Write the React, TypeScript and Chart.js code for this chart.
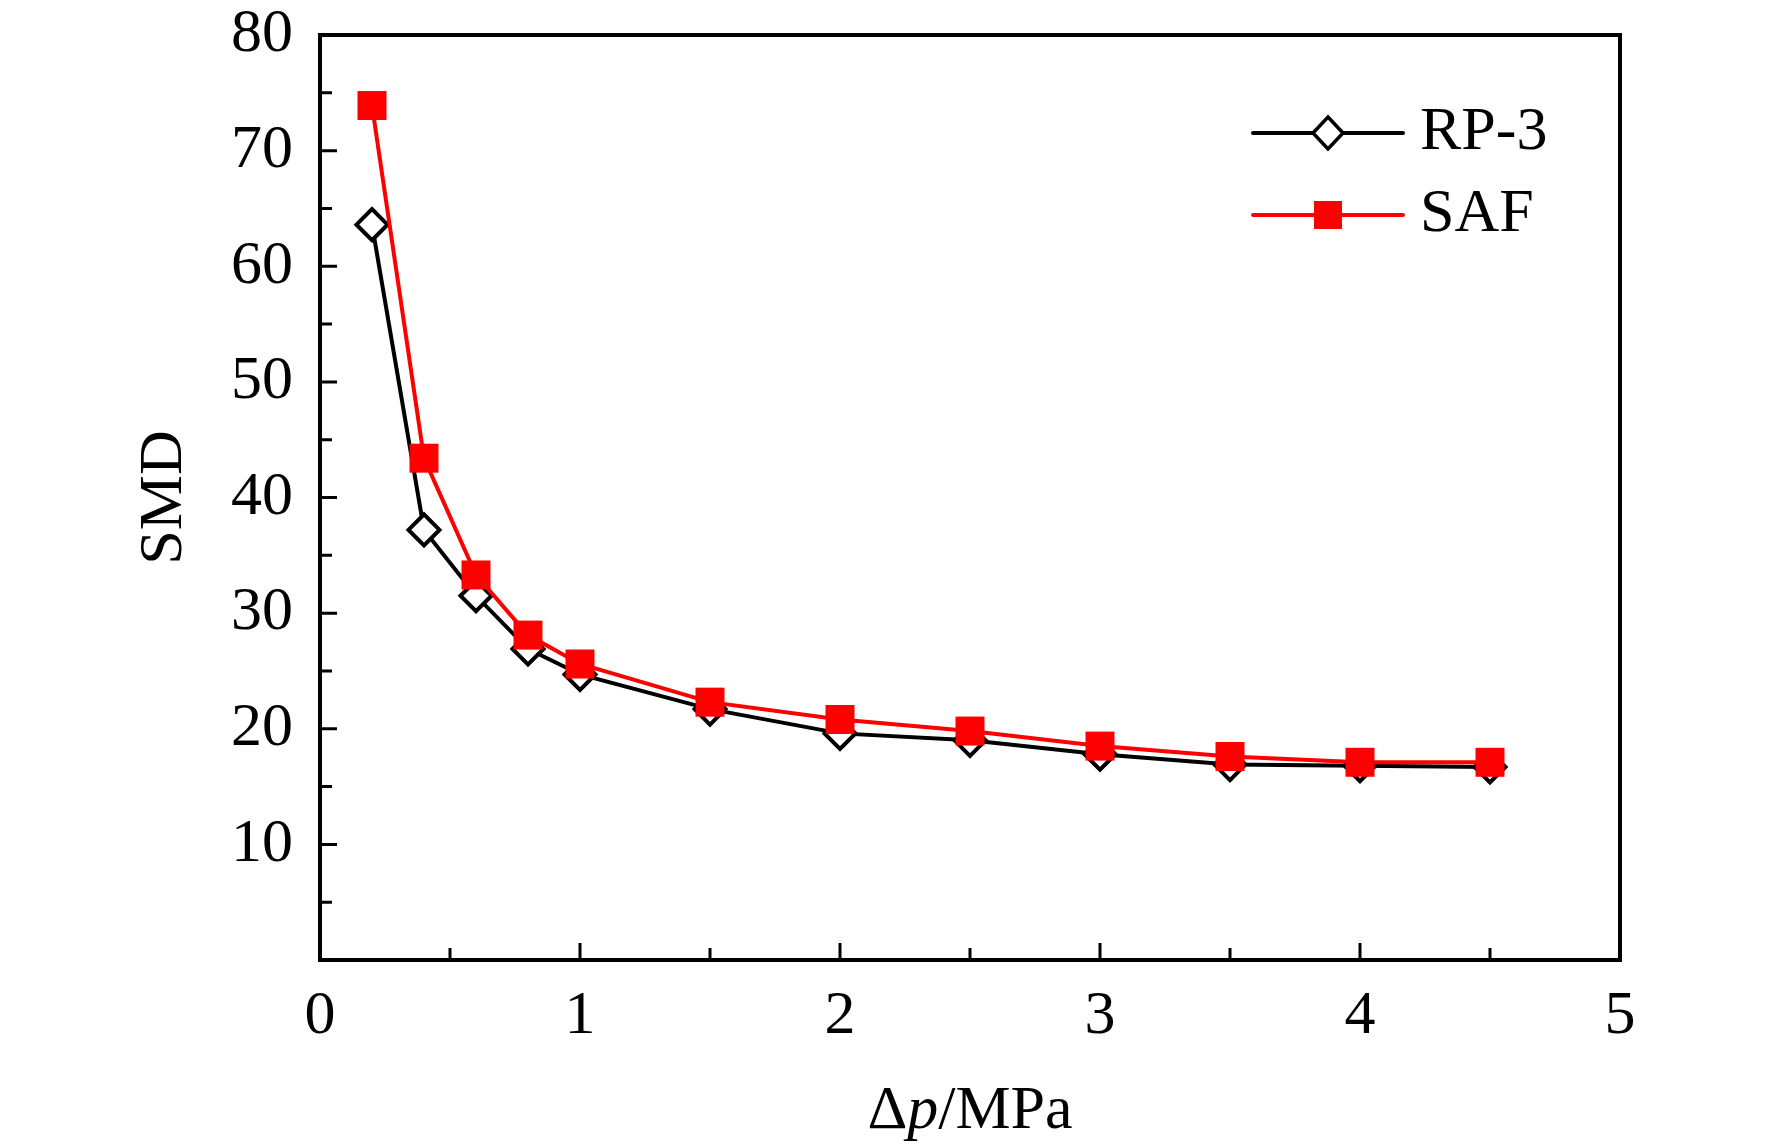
import { useEffect, useRef } from "react";
import { Chart, registerables } from "chart.js";

Chart.register(...registerables);

// pressure drop (MPa)
const pressure = [0.2, 0.4, 0.6, 0.8, 1.0, 1.5, 2.0, 2.5, 3.0, 3.5, 4.0, 4.5];
// SMD values
const rp3 = [63.6, 37.2, 31.5, 26.9, 24.7, 21.7, 19.6, 19.0, 17.8, 16.9, 16.8, 16.7];
const saf = [73.9, 43.4, 33.3, 28.1, 25.6, 22.3, 20.8, 19.8, 18.5, 17.6, 17.1, 17.1];

const xTickLabels = [0, 1, 2, 3, 4, 5];
const xMinorTicks = [0.5, 1.5, 2.5, 3.5, 4.5];
const yTickLabels = [10, 20, 30, 40, 50, 60, 70, 80];
const yMinorTicks = [5, 15, 25, 35, 45, 55, 65, 75];

const FONT = "'Liberation Serif', 'Times New Roman', serif";
const RED = "#ff0000";

// box round the plot + inward tick marks
const frameAndTicks = {
  id: "frameAndTicks",
  afterDraw(chart: any) {
    const { ctx, chartArea: a, scales } = chart;
    const x = scales.x;
    const y = scales.y;
    ctx.save();
    ctx.strokeStyle = "#000";
    ctx.lineWidth = 3;
    ctx.beginPath();
    xTickLabels.forEach((v) => {
      const px = x.getPixelForValue(v);
      ctx.moveTo(px, a.bottom);
      ctx.lineTo(px, a.bottom - 17);
    });
    xMinorTicks.forEach((v) => {
      const px = x.getPixelForValue(v);
      ctx.moveTo(px, a.bottom);
      ctx.lineTo(px, a.bottom - 12);
    });
    yTickLabels.forEach((v) => {
      const py = y.getPixelForValue(v);
      ctx.moveTo(a.left, py);
      ctx.lineTo(a.left + 17, py);
    });
    yMinorTicks.forEach((v) => {
      const py = y.getPixelForValue(v);
      ctx.moveTo(a.left, py);
      ctx.lineTo(a.left + 12, py);
    });
    ctx.stroke();
    ctx.lineWidth = 4;
    ctx.lineJoin = "miter";
    ctx.strokeRect(a.left, a.top, a.right - a.left, a.bottom - a.top);
    ctx.restore();
  },
};

// x title with italic p
const xTitle = {
  id: "xTitle",
  afterDraw(chart: any) {
    const { ctx, chartArea: a } = chart;
    const parts = [
      { t: "\u0394", f: `62px ${FONT}` },
      { t: "p", f: `italic 62px ${FONT}` },
      { t: "/MPa", f: `62px ${FONT}` },
    ];
    ctx.save();
    ctx.fillStyle = "#000";
    ctx.textBaseline = "alphabetic";
    ctx.textAlign = "left";
    let total = 0;
    const widths = parts.map((p) => {
      ctx.font = p.f;
      const w = ctx.measureText(p.t).width;
      total += w;
      return w;
    });
    let cx = (a.left + a.right) / 2 - total / 2;
    const baseY = a.bottom + 168;
    parts.forEach((p, i) => {
      ctx.font = p.f;
      ctx.fillText(p.t, cx, baseY);
      cx += widths[i];
    });
    ctx.restore();
  },
};

const legendBox = {
  id: "legendBox",
  afterDraw(chart: any) {
    const { ctx, chartArea: a } = chart;
    const x0 = a.right - 367;
    const x1 = a.right - 217;
    const mx = (x0 + x1) / 2;
    const rows = [
      { label: "RP-3", y: a.top + 98, color: "#000", marker: "diamond" },
      { label: "SAF", y: a.top + 180, color: RED, marker: "square" },
    ];
    ctx.save();
    rows.forEach((r) => {
      ctx.strokeStyle = r.color;
      ctx.lineWidth = 4;
      ctx.lineCap = "round";
      ctx.beginPath();
      ctx.moveTo(x0, r.y);
      ctx.lineTo(x1, r.y);
      ctx.stroke();
      if (r.marker === "diamond") {
        ctx.fillStyle = "#fff";
        ctx.lineWidth = 3.5;
        ctx.beginPath();
        ctx.moveTo(mx, r.y - 16);
        ctx.lineTo(mx + 15, r.y);
        ctx.lineTo(mx, r.y + 16);
        ctx.lineTo(mx - 15, r.y);
        ctx.closePath();
        ctx.fill();
        ctx.stroke();
      } else {
        ctx.fillStyle = RED;
        ctx.fillRect(mx - 14, r.y - 14, 28, 28);
      }
      ctx.fillStyle = "#000";
      ctx.font = `62px ${FONT}`;
      ctx.textAlign = "left";
      ctx.textBaseline = "middle";
      ctx.fillText(r.label, a.right - 200, r.y);
    });
    ctx.restore();
  },
};

const SmdChart = () => {
  const canvasRef = useRef<HTMLCanvasElement | null>(null);
  const chartRef = useRef<Chart | null>(null);

  useEffect(() => {
    if (!canvasRef.current) return;
    if (chartRef.current) chartRef.current.destroy();

    chartRef.current = new Chart(canvasRef.current, {
      type: "line",
      data: {
        datasets: [
          {
            label: "SAF",
            data: pressure.map((p, i) => ({ x: p, y: saf[i] })),
            borderColor: RED,
            backgroundColor: RED,
            borderWidth: 4,
            pointStyle: "rect",
            pointRadius: 20.5,
            pointBorderWidth: 0,
            pointBackgroundColor: RED,
            tension: 0,
            order: 0,
          },
          {
            label: "RP-3",
            data: pressure.map((p, i) => ({ x: p, y: rp3[i] })),
            borderColor: "#000",
            backgroundColor: "#fff",
            borderWidth: 4,
            pointStyle: "rectRot",
            pointRadius: 15.5,
            pointBorderWidth: 4,
            pointBorderColor: "#000",
            pointBackgroundColor: "#fff",
            tension: 0,
            order: 1,
          },
        ],
      },
      options: {
        animation: false,
        responsive: true,
        maintainAspectRatio: false,
        events: [],
        layout: {
          padding: { left: 0, top: 35, right: 152, bottom: 0 },
        },
        plugins: {
          legend: { display: false },
          tooltip: { enabled: false },
        },
        scales: {
          x: {
            type: "linear",
            min: 0,
            max: 5,
            afterBuildTicks: (s: any) => {
              s.ticks = xTickLabels.map((v) => ({ value: v }));
            },
            afterFit: (s: any) => {
              s.height = 184;
              s.paddingLeft = 0;
              s.paddingRight = 0;
            },
            grid: { display: false, drawTicks: false },
            border: { display: false },
            ticks: {
              color: "#000",
              padding: 20,
              maxRotation: 0,
              font: { family: FONT, size: 62 },
            },
          },
          y: {
            type: "linear",
            min: 0,
            max: 80,
            afterBuildTicks: (s: any) => {
              s.ticks = yTickLabels.map((v) => ({ value: v }));
            },
            afterFit: (s: any) => {
              s.width = 320;
              s.paddingTop = 0;
              s.paddingBottom = 0;
            },
            grid: { display: false, drawTicks: false },
            border: { display: false },
            ticks: {
              color: "#000",
              padding: 27,
              font: { family: FONT, size: 62 },
            },
            title: {
              display: true,
              text: "SMD",
              color: "#000",
              font: { family: FONT, size: 62, lineHeight: 1 },
              padding: { top: 134, bottom: 0 },
            },
          },
        },
      },
      plugins: [frameAndTicks, xTitle, legendBox],
    });

    return () => {
      if (chartRef.current) {
        chartRef.current.destroy();
        chartRef.current = null;
      }
    };
  }, []);

  return (
    <div
      style={{
        position: "fixed",
        left: 0,
        top: 0,
        width: 1772,
        height: 1144,
        background: "#fff",
      }}
    >
      <canvas ref={canvasRef}></canvas>
    </div>
  );
};

export default function App() {
  return <SmdChart />;
}
